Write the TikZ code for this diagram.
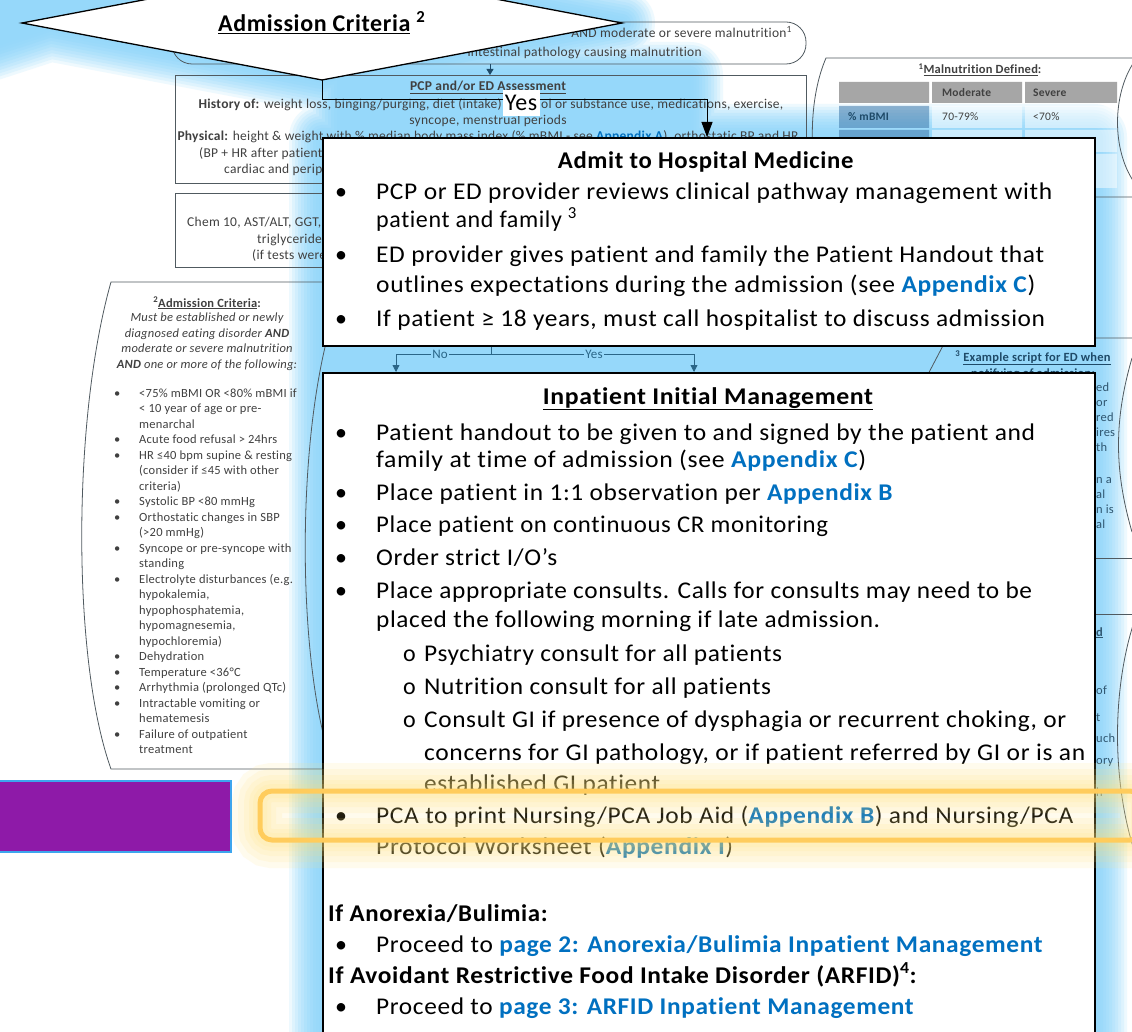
\documentclass[tikz,border=0pt]{standalone}
\usepackage{fontspec}
\usepackage{graphicx}
\setmainfont{Carlito}[Ligatures=NoCommon]
\newfontfamily\boxfont{Carlito}[LetterSpace=2.5, Ligatures=NoCommon]
\newfontfamily\docfont{Carlito}[LetterSpace=2, Ligatures=NoCommon]
\usetikzlibrary{arrows.meta}

\definecolor{glowc}{HTML}{96D8FA}
\definecolor{linkc}{HTML}{0070C0}
\definecolor{doctext}{HTML}{404040}
\definecolor{docline}{HTML}{505A60}
\definecolor{flowc}{HTML}{2A6688}
\definecolor{scriptc}{HTML}{1E4A68}
\definecolor{fragc}{HTML}{2F5670}
\definecolor{hiyel}{HTML}{FFCC5C}
\definecolor{hihaze}{HTML}{FFE27A}
\definecolor{purp}{HTML}{8E1AA8}
\definecolor{purpedge}{HTML}{3DA5EE}
\definecolor{tblhead}{HTML}{A6A6A6}
\definecolor{tblkey}{HTML}{3E78AA}

% squeeze or stretch a line of text to a given width, keeping its height
\newcommand\fitw[2]{\resizebox{#1pt}{\height}{#2}}
\newcommand\lnk[1]{\textcolor{linkc}{\textbf{#1}}}
% outline of the soft blue halo (diamond, link to the boxes, both boxes)
\newcommand\haloshape{(22,23) -- (322,-34) -- (622,23) -- (322,80) -- cycle
  (-10,-40) -- (260,-40) -- (-10,48) -- cycle
  (340,75) rectangle (690,140)
  (322,137) rectangle (1094,1090)}

\tikzset{
  docbox/.style={draw=docline, line width=0.8pt},
  dtxt/.style={text=doctext, inner sep=0pt, anchor=base, font=\docfont\fontsize{13.5}{16}\selectfont},
  dtxtw/.style={dtxt, anchor=base west},
  ptxt/.style={text=doctext, inner sep=0pt, anchor=base, font=\docfont\fontsize{12.5}{15}\selectfont},
  frag/.style={inner sep=0pt, anchor=base west, text=fragc, font=\docfont\fontsize{12.5}{14}\selectfont},
  bigbox/.style={draw=black, line width=1.6pt, fill=white, anchor=north west, inner sep=0pt},
  btxt/.style={anchor=base west, inner sep=0pt, text=black, font=\boxfont\fontsize{24}{29}\selectfont},
  bctr/.style={btxt, anchor=base},
  flowline/.style={draw=flowc, line width=0.8pt},
  flowtip/.style={-{Triangle[length=7pt,width=7pt]}},
  flowlbl/.style={fill=glowc, text=flowc, inner sep=1.5pt, font=\docfont\fontsize{13}{15}\selectfont},
}

\begin{document}
\begin{tikzpicture}[x=1pt, y=-1pt]
\useasboundingbox (0,0) rectangle (1132,1032);
\clip (0,0) rectangle (1132,1032);
\fill[white] (0,0) rectangle (1132,1032);

% ---------------- soft blue halo ----------------
\foreach \w/\p in {66/16,60/31,54/44,48/56,42/66,36/75,30/83,24/89,18/94,12/97,6/99,0/100}{
  \filldraw[fill=glowc!\p!white, draw=glowc!\p!white, line width=\w pt, line join=round] \haloshape;
}

% ---------------- pathway sheet underneath ----------------
% entry condition
\draw[docbox, rounded corners=20pt] (172,22) rectangle (806,64);
\node[dtxt, anchor=base east] (cond1) at (792,38) {AND moderate or severe malnutrition\textsuperscript{1}};
\node[dtxt, anchor=base east] (cond2) at (702,57) {intestinal pathology causing malnutrition};
\coordinate (condbot) at (490,64);
\coordinate (pcptop) at (490,75);
\draw[draw=scriptc, line width=0.8pt, -{Triangle[length=6pt,width=7pt]}] (condbot) -- (pcptop);

% assessment box
\draw[docbox] (175,75) rectangle (806,183);
\node[dtxt, font=\docfont\bfseries\fontsize{13.5}{16}\selectfont] (pcpT) at (488,91) {\underline{PCP and/or ED Assessment}};
\node[dtxt, anchor=base east] (pcp1a) at (502,109) {\textbf{History of:} weight loss, binging/purging, diet (intake)};
\node[dtxtw] (pcp1b) at (541,109) {ol or substance use, medications, exercise,};
\node[dtxt] (pcp2) at (488,125) {syncope, menstrual periods};
\node[dtxt] (pcp3) at (488,141) {\textbf{Physical:} height \& weight with \% median body mass index (\% mBMI - see \lnk{Appendix A}), orthostatic BP and HR};
\node[dtxtw] (pcp4) at (199,158) {(BP + HR after patient supine};
\node[dtxtw] (pcp5) at (224,174) {cardiac and peripheral};

% labs box
\draw[docbox] (175,193) rectangle (340,267);
\node[dtxtw] (lab1) at (187,227) {Chem 10, AST/ALT, GGT,};
\node[dtxtw] (lab2) at (257,244) {triglycerides};
\node[dtxtw] (lab3) at (252,260) {(if tests were};

% admission criteria side panel
\draw[docbox] (340,282) -- (111,282) .. controls (72,420) and (72,660) .. (111,769) -- (340,769);
\node[ptxt, font=\docfont\bfseries\fontsize{12.5}{15}\selectfont] (critT) at (207,307) {\textsuperscript{2}\underline{Admission Criteria}:};
\node[ptxt, font=\docfont\itshape\fontsize{12.5}{15}\selectfont] (crit1) at (207,321) {Must be established or newly};
\node[ptxt, font=\docfont\itshape\fontsize{12.5}{15}\selectfont] (crit2) at (207,337) {diagnosed eating disorder \textbf{AND}};
\node[ptxt, font=\docfont\itshape\fontsize{12.5}{15}\selectfont] (crit3) at (207,352) {moderate or severe malnutrition};
\node[ptxt, font=\docfont\itshape\fontsize{12.5}{15}\selectfont] (crit4) at (207,368) {\textbf{AND} one or more of the following:};
\node[anchor=base west, inner sep=0pt, text=doctext, font=\docfont\fontsize{12.5}{15.52}\selectfont] (critlist) at (111,397) {%
\begin{tabular}[t]{@{}p{28pt}@{}l@{}}
\hspace{3pt}\textbullet & <75\% mBMI OR <80\% mBMI if\\
 & < 10 year of age or pre-\\
 & menarchal\\
\hspace{3pt}\textbullet & Acute food refusal > 24hrs\\
\hspace{3pt}\textbullet & HR ≤40 bpm supine \& resting\\
 & (consider if ≤45 with other\\
 & criteria)\\
\hspace{3pt}\textbullet & Systolic BP <80 mmHg\\
\hspace{3pt}\textbullet & Orthostatic changes in SBP\\
 & (>20 mmHg)\\
\hspace{3pt}\textbullet & Syncope or pre-syncope with\\
 & standing\\
\hspace{3pt}\textbullet & Electrolyte disturbances (e.g.\\
 & hypokalemia,\\
 & hypophosphatemia,\\
 & hypomagnesemia,\\
 & hypochloremia)\\
\hspace{3pt}\textbullet & Dehydration\\
\hspace{3pt}\textbullet & Temperature <36°C\\
\hspace{3pt}\textbullet & Arrhythmia (prolonged QTc)\\
\hspace{3pt}\textbullet & Intractable vomiting or\\
 & hematemesis\\
\hspace{3pt}\textbullet & Failure of outpatient\\
 & treatment
\end{tabular}};

% edge of the next panel, behind the management box
\draw[docbox] (328,335) .. controls (298,450) and (298,640) .. (326,745);

% malnutrition table panel
\draw[docbox] (1140,58) -- (826,58) .. controls (810,95) and (808,150) .. (820,197) -- (1140,197);
\node[ptxt, font=\docfont\bfseries\fontsize{12.5}{14}\selectfont] (malT) at (980,74) {\textsuperscript{1}\underline{Malnutrition Defined}:};
\fill[tblhead] (839,82) rectangle (929,103) (932,82) rectangle (1022,103) (1025,82) rectangle (1117,103);
\fill[tblkey, opacity=.55] (839,106) rectangle (929,128) (839,130) rectangle (929,152) (839,154) rectangle (929,188);
\fill[white, opacity=.5] (932,106) rectangle (1022,128) (1025,106) rectangle (1117,128)
  (932,130) rectangle (1022,152) (1025,130) rectangle (1117,152)
  (932,154) rectangle (1022,188) (1025,154) rectangle (1117,188);
\node[ptxt, anchor=base west, font=\docfont\bfseries\fontsize{11.5}{14}\selectfont] (tModerate) at (942,97) {Moderate};
\node[ptxt, anchor=base west, font=\docfont\bfseries\fontsize{11.5}{14}\selectfont] (tSevere) at (1033,97) {Severe};
\node[ptxt, anchor=base west, text=scriptc, font=\docfont\bfseries\fontsize{11.5}{14}\selectfont] (tKey) at (848,121) {\% mBMI};
\node[ptxt, anchor=base west, font=\docfont\fontsize{11.5}{14}\selectfont] (tMod) at (942,121) {70-79\%};
\node[ptxt, anchor=base west, font=\docfont\fontsize{11.5}{14}\selectfont] (tSev) at (1033,121) {<70\%};

% right-hand panels
\draw[docbox] (1134,62) .. controls (1112,95) and (1112,150) .. (1134,182);
\draw[docbox] (1140,338) -- (947,338) -- (925,380);
\node[ptxt, text=scriptc, font=\docfont\bfseries\fontsize{12.5}{14}\selectfont] (scriptT) at (1033,361) {\textsuperscript{3} \underline{Example script for ED when}};
\node[ptxt, text=scriptc, font=\docfont\bfseries\fontsize{12.5}{14}\selectfont] (scriptT2) at (1033,377) {\underline{notifying of admission:}};
\draw[docbox] (1132,358) .. controls (1114,420) and (1114,470) .. (1132,532);
\draw[docbox] (1094,558) -- (1140,558) (1094,614) -- (1140,614);
\draw[docbox] (1134,622) .. controls (1112,690) and (1112,780) .. (1134,850);
\foreach \t/\yy in {ed/391,or/406,red/421,ires/436,th/451,n a/483,al/498,n is/513,al/528,of/694,t/721,uch/742,ory/764,h/796}{
  \node[frag] at (1096,\yy) {\t};
}
\node[frag, font=\docfont\bfseries\fontsize{12.5}{14}\selectfont] (fragD) at (1096,636) {\underline{d}};

% ---------------- decision diamond ----------------
\filldraw[fill=white, draw=black, line width=1.3pt] (22,23) -- (322,-34) -- (622,23) -- (322,80) -- cycle;
\coordinate (dbot) at (322,80);
\node[bctr] (dtitle) at (322,32) {\textbf{\underline{Admission Criteria}} \textsuperscript{\textbf{2}}};

% ---------------- admit box ----------------
\node[bigbox, minimum width=772pt, minimum height=208pt] (admit) at (322,137) {};
\node[bctr] (admitT) at (706,169) {\fitw{296}{\textbf{Admit to Hospital Medicine}}};
\foreach \yy in {200,263,326}{ \node[btxt] at (335,\yy) {\textbullet}; }
\node[btxt] (a1) at (376,200) {\fitw{676}{PCP or ED provider reviews clinical pathway management with}};
\node[btxt] (a2) at (376,228) {patient and family \textsuperscript{3}};
\node[btxt] (a3) at (376,263) {\fitw{668}{ED provider gives patient and family the Patient Handout that}};
\node[btxt] (a4) at (376,292) {\fitw{659}{outlines expectations during the admission (see \lnk{Appendix C})}};
\node[btxt] (a5) at (376,326) {\fitw{669}{If patient ≥ 18 years, must call hospitalist to discuss admission}};

% yes branch from the diamond into the admit box
\coordinate (yesturn) at (707,100);
\draw[black, line width=1pt, -{Triangle[length=15pt,width=11pt]}] (dbot) |- (yesturn) -- (yesturn |- admit.north);
\node[fill=white, inner sep=0pt, minimum width=37pt, minimum height=26pt, font=\boxfont\fontsize{24}{29}\selectfont] (yeslbl) at (521,103) {Yes};

% ---------------- inpatient management box ----------------
\node[bigbox, minimum width=772pt, minimum height=720pt] (inpat) at (322,372) {};

% split below the admit box
\coordinate (split) at (491,354);
\coordinate (noend) at (396,372);
\coordinate (yesend) at (694,372);
\draw[flowline] (admit.south -| split) -- (split);
\draw[flowline, flowtip] (split) -| (noend);
\draw[flowline, flowtip] (split) -| (yesend);
\node[flowlbl] (nolbl) at (440,354) {No};
\node[flowlbl] (yeslbl2) at (594,354) {Yes};

\node[bctr] (inT) at (708,404) {\fitw{330}{\textbf{\underline{Inpatient Initial Management}}}};
\foreach \yy in {440,500,532,565,598,823}{ \node[btxt] at (335,\yy) {\textbullet}; }
\foreach \yy in {661,694,727}{ \node[btxt] at (403,\yy) {o}; }
\node[btxt] (i1) at (376,440) {\fitw{659}{Patient handout to be given to and signed by the patient and}};
\node[btxt] (i2) at (376,467) {\fitw{490}{family at time of admission (see \lnk{Appendix C})}};
\node[btxt] (i3) at (376,500) {\fitw{517}{Place patient in 1:1 observation per \lnk{Appendix B}}};
\node[btxt] (i4) at (376,532) {\fitw{452}{Place patient on continuous CR monitoring}};
\node[btxt] (i5) at (376,565) {\fitw{181}{Order strict I/O’s}};
\node[btxt] (i6) at (376,598) {\fitw{656}{Place appropriate consults. Calls for consults may need to be}};
\node[btxt] (i7) at (376,627) {\fitw{504}{placed the following morning if late admission.}};
\node[btxt] (i8) at (424,661) {\fitw{358}{Psychiatry consult for all patients}};
\node[btxt] (i9) at (424,694) {\fitw{347}{Nutrition consult for all patients}};
\node[btxt] (i10) at (424,727) {\fitw{642}{Consult GI if presence of dysphagia or recurrent choking, or}};
\node[btxt] (i11) at (424,760) {\fitw{661}{concerns for GI pathology, or if patient referred by GI or is an}};
\node[btxt] (i12) at (424,791) {\fitw{236}{established GI patient}};
\node[btxt] (i13) at (376,823) {\fitw{697}{PCA to print Nursing/PCA Job Aid (\lnk{Appendix B}) and Nursing/PCA}};
\node[btxt] (i14) at (376,854) {\fitw{357}{Protocol Worksheet (\lnk{Appendix I})}};
\node[btxt] (i15) at (328,921) {\fitw{220}{\textbf{If Anorexia/Bulimia:}}};
\node[btxt] at (335,952) {\textbullet};
\node[btxt] (i16) at (376,952) {\fitw{667}{Proceed to \lnk{page 2: Anorexia/Bulimia Inpatient Management}}};
\node[btxt] (i17) at (328,983) {\fitw{589}{\textbf{If Avoidant Restrictive Food Intake Disorder (ARFID)\textsuperscript{4}:}}};
\node[btxt] at (335,1014) {\textbullet};
\node[btxt] (i18) at (376,1014) {\fitw{538}{Proceed to \lnk{page 3: ARFID Inpatient Management}}};

% ---------------- yellow highlight ----------------
\foreach \w in {56,44,32,22,14}{
  \draw[hihaze, opacity=.13, line width=\w pt, rounded corners=12pt] (260,791) rectangle (1142,840);
}
\draw[hiyel, line width=5pt, rounded corners=12pt] (260,791) rectangle (1142,840);

% ---------------- purple bar ----------------
\node[fill=purp, draw=purpedge, line width=2pt, minimum width=232pt, minimum height=71pt, anchor=north west, inner sep=0pt] (purple) at (-2,780) {};
\end{tikzpicture}
\end{document}
